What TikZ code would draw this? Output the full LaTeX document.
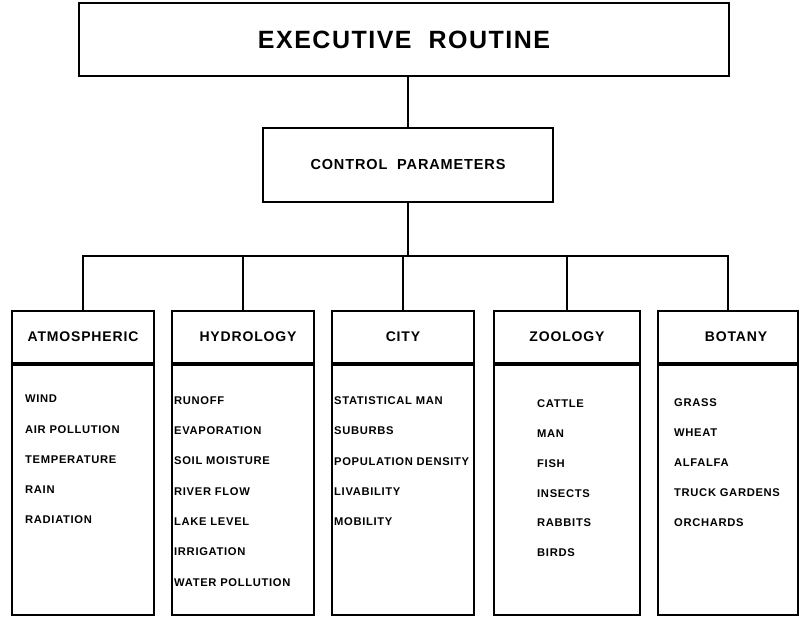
\documentclass[tikz,border=0pt]{standalone}
\usepackage{fontspec}
\setmainfont[LetterSpace=6]{Liberation Sans}
\usepackage{tikz}

\tikzset{
  mainbox/.style={draw, line width=2pt, minimum width=650pt, minimum height=73pt,
    font=\fontsize{25}{30}\selectfont\bfseries},
  ctrlbox/.style={draw, line width=2pt, minimum width=290pt, minimum height=74pt,
    font=\fontsize{14.5}{17}\selectfont\bfseries},
  headbox/.style={draw, line width=2pt, minimum width=142pt, minimum height=52pt,
    anchor=north, font=\fontsize{14}{17}\selectfont\bfseries},
  bodybox/.style={draw, line width=2pt, minimum width=142pt, minimum height=250pt,
    anchor=north},
  item/.style={anchor=west, inner sep=0pt, font=\fontsize{11.2}{13}\selectfont\bfseries},
  wire/.style={line width=2pt}
}

\begin{document}
\begin{tikzpicture}[x=1pt,y=-1pt]
    \useasboundingbox (0,0) rectangle (802,616);

    % Livelli superiori
    \node[mainbox] (exec) at (404,39.5) {EXECUTIVE\ \ ROUTINE};
    \node[ctrlbox] (ctrl) at (408,165) {CONTROL\ \ PARAMETERS};

    % Moduli
    \node[headbox] (atmh) at (83,310) {ATMOSPHERIC};
    \node[bodybox] (atmb) at (atmh.south) {};
    \node[headbox] (hydh) at (243,310) {\hspace{10pt}HYDROLOGY};
    \node[bodybox] (hydb) at (hydh.south) {};
    \node[headbox] (cith) at (403,310) {CITY};
    \node[bodybox] (citb) at (cith.south) {};
    \node[headbox, minimum width=146pt] (zooh) at (567,310) {ZOOLOGY};
    \node[bodybox, minimum width=146pt] (zoob) at (zooh.south) {};
    \node[headbox, minimum width=140pt] (both) at (728,310) {\hspace{16pt}BOTANY};
    \node[bodybox, minimum width=140pt] (botb) at (both.south) {};

    % Collegamenti
    \coordinate (bus) at (408,256);
    \draw[wire] (ctrl.north |- exec.south) -- (ctrl.north);
    \draw[wire] (ctrl.south) -- (bus);
    \draw[wire] (atmh.north) -- (atmh.north |- bus) -- (both.north |- bus) -- (both.north);
    \draw[wire] (hydh.north) -- (hydh.north |- bus);
    \draw[wire] (cith.north) -- (cith.north |- bus);
    \draw[wire] (zooh.north) -- (zooh.north |- bus);

    % Atmospheric
    \node[item] (atm1) at (25,399) {WIND};
    \node[item] (atm2) at (25,430) {AIR POLLUTION};
    \node[item] (atm3) at (25,460) {TEMPERATURE};
    \node[item] (atm4) at (25,490) {RAIN};
    \node[item] (atm5) at (25,520) {RADIATION};

    % Hydrology
    \node[item] (hyd1) at (174,401) {RUNOFF};
    \node[item] (hyd2) at (174,431) {EVAPORATION};
    \node[item] (hyd3) at (174,461) {SOIL MOISTURE};
    \node[item] (hyd4) at (174,492) {RIVER FLOW};
    \node[item] (hyd5) at (174,522) {LAKE LEVEL};
    \node[item] (hyd6) at (174,552) {IRRIGATION};
    \node[item] (hyd7) at (174,583) {WATER POLLUTION};

    % City
    \node[item] (cit1) at (334,401) {STATISTICAL MAN};
    \node[item] (cit2) at (334,431) {SUBURBS};
    \node[item] (cit3) at (334,462) {POPULATION DENSITY};
    \node[item] (cit4) at (334,492) {LIVABILITY};
    \node[item] (cit5) at (334,522) {MOBILITY};

    % Zoology
    \node[item] (zoo1) at (537,404) {CATTLE};
    \node[item] (zoo2) at (537,434) {MAN};
    \node[item] (zoo3) at (537,464) {FISH};
    \node[item] (zoo4) at (537,494) {INSECTS};
    \node[item] (zoo5) at (537,523) {RABBITS};
    \node[item] (zoo6) at (537,553) {BIRDS};

    % Botany
    \node[item] (bot1) at (674,403) {GRASS};
    \node[item] (bot2) at (674,433) {WHEAT};
    \node[item] (bot3) at (674,463) {ALFALFA};
    \node[item] (bot4) at (674,493) {TRUCK GARDENS};
    \node[item] (bot5) at (674,523) {ORCHARDS};
\end{tikzpicture}
\end{document}
